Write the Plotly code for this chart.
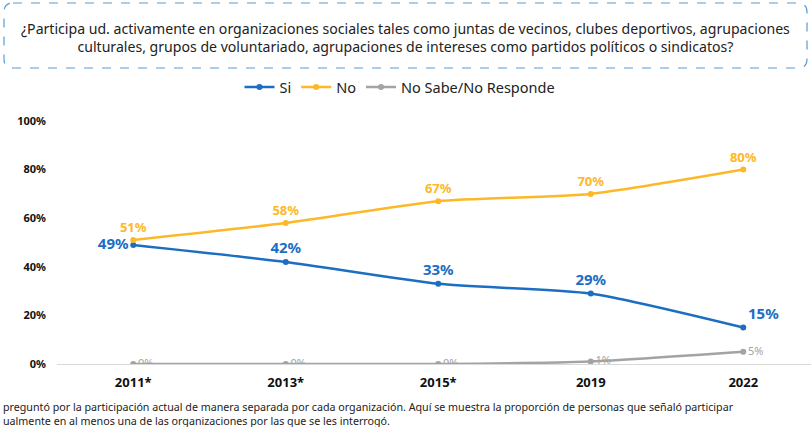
import plotly.graph_objects as go

years = ["2011*", "2013*", "2015*", "2019", "2022"]
si = [49, 42, 33, 29, 15]
no = [51, 58, 67, 70, 80]
nsnr = [0, 0, 0, 1, 5]
y_ticks = [0, 20, 40, 60, 80, 100]

pregunta = ("¿Participa ud. activamente en organizaciones sociales tales como juntas de vecinos, clubes deportivos, agrupaciones<br>"
            "culturales, grupos de voluntariado, agrupaciones de intereses como partidos políticos o sindicatos?")
nota = ("preguntó por la participación actual de manera separada por cada organización. Aquí se muestra la proporción de personas que señaló participar<br>"
        "ualmente en al menos una de las organizaciones por las que se les interrogó.")

BLUE = "#1B6EC2"
ORANGE = "#FDB827"
GRAY = "#A3A3A3"
FONT = "Noto Sans"

W, H = 811, 427
L, R, T, B = 57, 0, 121, 63
pw, ph = W - L - R, H - T - B


def px(x):
    return (x - L) / pw


def py(y):
    return (H - B - y) / ph


fig = go.Figure()

fig.add_trace(go.Scatter(
    x=years, y=si, name="Si", mode="lines+markers+text",
    line=dict(color=BLUE, width=2.5, shape="spline", smoothing=0.6),
    marker=dict(size=6, color=BLUE),
    text=[f"{v}%" for v in si],
    textposition=["middle left", "top center", "top center", "top center", "top right"],
    textfont=dict(color=BLUE, size=15, family=FONT, weight="bold"),
))
fig.add_trace(go.Scatter(
    x=years, y=no, name="No", mode="lines+markers+text",
    line=dict(color=ORANGE, width=2.5, shape="spline", smoothing=0.6),
    marker=dict(size=6, color=ORANGE),
    text=[f"{v}%" for v in no],
    textposition="top center",
    textfont=dict(color=ORANGE, size=13, family=FONT, weight="bold"),
))
fig.add_trace(go.Scatter(
    x=years, y=nsnr, name="No Sabe/No Responde", mode="lines+markers+text",
    line=dict(color=GRAY, width=2.5, shape="spline", smoothing=0.6),
    marker=dict(size=6, color=GRAY),
    text=[f"{v}%" for v in nsnr],
    textposition="middle right",
    textfont=dict(color=GRAY, size=11, family=FONT),
))

# recuadro de la pregunta
x0, x1, y0, y1 = px(4), px(807), py(3), py(68)
rx, ry = 9 / pw, 9 / ph
path = (f"M {x0+rx},{y0} L {x1-rx},{y0} Q {x1},{y0} {x1},{y0-ry} "
        f"L {x1},{y1+ry} Q {x1},{y1} {x1-rx},{y1} L {x0+rx},{y1} "
        f"Q {x0},{y1} {x0},{y1+ry} L {x0},{y0-ry} Q {x0},{y0} {x0+rx},{y0} Z")
fig.add_shape(type="path", path=path, xref="paper", yref="paper",
              line=dict(color="#5B9BD5", width=1.2, dash="dash"))

fig.add_annotation(text=pregunta, x=px(405), y=py(38), xref="paper", yref="paper",
                   showarrow=False, font=dict(size=14.1, color="#222", family=FONT),
                   xanchor="center", yanchor="middle")
fig.add_annotation(text=nota, x=px(1), y=py(398), xref="paper", yref="paper",
                   showarrow=False, align="left", font=dict(size=10.7, color="#222", family=FONT),
                   xanchor="left", yanchor="top")

fig.update_layout(
    width=W, height=H,
    margin=dict(l=L, r=R, t=T, b=B),
    plot_bgcolor="white", paper_bgcolor="white",
    font=dict(family=FONT),
    legend=dict(orientation="h", x=px(400), xanchor="center", y=py(87), yanchor="middle",
                font=dict(size=14.5, color="#222"), itemwidth=30),
)
fig.update_xaxes(range=[-0.5, (W - L) / 152.5 - 0.5], showgrid=False,
                 showline=True, linecolor="#D9D9D9", linewidth=1,
                 tickfont=dict(size=13, color="#111", family=FONT, weight="bold"),
                 ticks="", zeroline=False, ticklabelstandoff=6)
fig.update_yaxes(range=[0, 100], showgrid=False, zeroline=False, showline=False,
                 tickvals=y_ticks, ticktext=[f"{v}%" for v in y_ticks],
                 tickfont=dict(size=11, color="#111", family=FONT, weight="bold"),
                 ticklabelstandoff=10)

fig.write_html("out.html", config={"displayModeBar": False},
               post_script="document.body.style.margin='0';document.body.style.padding='0';")
